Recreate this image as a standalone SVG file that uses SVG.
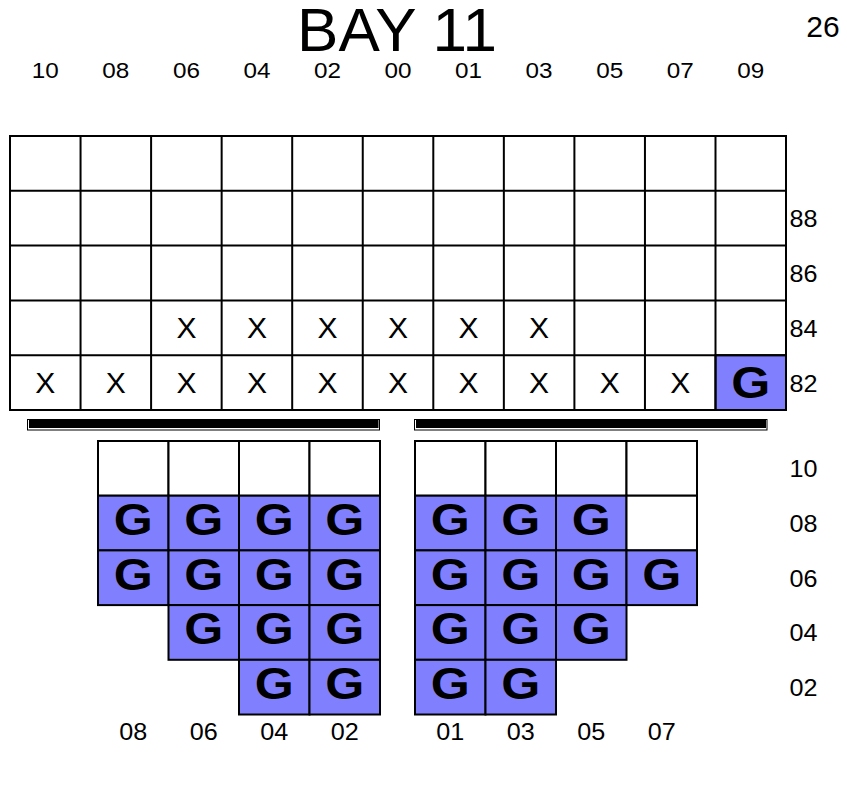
<svg xmlns="http://www.w3.org/2000/svg" width="847" height="803" viewBox="0 0 847 803">
<style>
text{font-family:"Liberation Sans",Arial,sans-serif;fill:#000;text-anchor:middle}
.title{font-size:62px}
.num{font-size:30px}
.cl{font-size:22px}
.rl{font-size:23px}
.x{font-size:30px}
.g{font-size:44px;font-weight:bold}
.w{fill:#fff;stroke:#000;stroke-width:2}
.b{fill:#8080ff;stroke:#000;stroke-width:2}
.ln{stroke:#000;stroke-width:2;fill:none}
</style>
<rect width="847" height="803" fill="#fff"/>
<g id="title">
<text class="title" x="397" y="51">BAY 11</text>
<text class="num" x="823" y="37">26</text>
</g>
<g id="column-labels">
<text class="cl" x="45.3" y="78" textLength="27" lengthAdjust="spacingAndGlyphs">10</text>
<text class="cl" x="115.8" y="78" textLength="27" lengthAdjust="spacingAndGlyphs">08</text>
<text class="cl" x="186.4" y="78" textLength="27" lengthAdjust="spacingAndGlyphs">06</text>
<text class="cl" x="256.9" y="78" textLength="27" lengthAdjust="spacingAndGlyphs">04</text>
<text class="cl" x="327.5" y="78" textLength="27" lengthAdjust="spacingAndGlyphs">02</text>
<text class="cl" x="398" y="78" textLength="27" lengthAdjust="spacingAndGlyphs">00</text>
<text class="cl" x="468.6" y="78" textLength="27" lengthAdjust="spacingAndGlyphs">01</text>
<text class="cl" x="539.1" y="78" textLength="27" lengthAdjust="spacingAndGlyphs">03</text>
<text class="cl" x="609.7" y="78" textLength="27" lengthAdjust="spacingAndGlyphs">05</text>
<text class="cl" x="680.2" y="78" textLength="27" lengthAdjust="spacingAndGlyphs">07</text>
<text class="cl" x="750.8" y="78" textLength="27" lengthAdjust="spacingAndGlyphs">09</text>
</g>
<g id="upper-grid">
<rect class="w" x="10" y="136" width="776" height="274"/>
<rect class="b" x="715.5" y="355.2" width="70.5" height="54.8"/>
<path class="ln" d="M80.55 136V410M151.1 136V410M221.65 136V410M292.2 136V410M362.75 136V410M433.3 136V410M503.85 136V410M574.4 136V410M644.95 136V410M715.5 136V410M10 190.8H786M10 245.6H786M10 300.4H786M10 355.2H786"/>
<text class="x" x="186.4" y="338">X</text>
<text class="x" x="256.9" y="338">X</text>
<text class="x" x="327.5" y="338">X</text>
<text class="x" x="398" y="338">X</text>
<text class="x" x="468.6" y="338">X</text>
<text class="x" x="539.1" y="338">X</text>
<text class="x" x="45.3" y="393">X</text>
<text class="x" x="115.8" y="393">X</text>
<text class="x" x="186.4" y="393">X</text>
<text class="x" x="256.9" y="393">X</text>
<text class="x" x="327.5" y="393">X</text>
<text class="x" x="398" y="393">X</text>
<text class="x" x="468.6" y="393">X</text>
<text class="x" x="539.1" y="393">X</text>
<text class="x" x="609.7" y="393">X</text>
<text class="x" x="680.2" y="393">X</text>
<text class="g" x="750.8" y="398" textLength="39" lengthAdjust="spacingAndGlyphs">G</text>
</g>
<g id="upper-row-labels">
<text class="rl" x="803.5" y="227" textLength="28" lengthAdjust="spacingAndGlyphs">88</text>
<text class="rl" x="803.5" y="282" textLength="28" lengthAdjust="spacingAndGlyphs">86</text>
<text class="rl" x="803.5" y="337" textLength="28" lengthAdjust="spacingAndGlyphs">84</text>
<text class="rl" x="803.5" y="392" textLength="28" lengthAdjust="spacingAndGlyphs">82</text>
</g>
<g id="hatch-bars">
<rect x="27.5" y="419.5" width="352" height="10.5" fill="none" stroke="#000" stroke-width="1"/>
<rect x="29" y="419" width="349.5" height="9" fill="#000"/>
<rect x="414.5" y="419.5" width="352.5" height="10.5" fill="none" stroke="#000" stroke-width="1"/>
<rect x="416" y="419" width="350" height="9" fill="#000"/>
</g>
<g id="lower-left">
<rect class="w" x="98" y="441" width="70.5" height="54.7"/>
<rect class="w" x="168.5" y="441" width="70.5" height="54.7"/>
<rect class="w" x="239" y="441" width="70.5" height="54.7"/>
<rect class="w" x="309.5" y="441" width="70.5" height="54.7"/>
<rect class="b" x="98" y="495.7" width="70.5" height="54.7"/>
<rect class="b" x="168.5" y="495.7" width="70.5" height="54.7"/>
<rect class="b" x="239" y="495.7" width="70.5" height="54.7"/>
<rect class="b" x="309.5" y="495.7" width="70.5" height="54.7"/>
<rect class="b" x="98" y="550.4" width="70.5" height="54.7"/>
<rect class="b" x="168.5" y="550.4" width="70.5" height="54.7"/>
<rect class="b" x="239" y="550.4" width="70.5" height="54.7"/>
<rect class="b" x="309.5" y="550.4" width="70.5" height="54.7"/>
<rect class="b" x="168.5" y="605.1" width="70.5" height="54.7"/>
<rect class="b" x="239" y="605.1" width="70.5" height="54.7"/>
<rect class="b" x="309.5" y="605.1" width="70.5" height="54.7"/>
<rect class="b" x="239" y="659.8" width="70.5" height="54.7"/>
<rect class="b" x="309.5" y="659.8" width="70.5" height="54.7"/>
<text class="g" x="133.25" y="535" textLength="39" lengthAdjust="spacingAndGlyphs">G</text>
<text class="g" x="203.75" y="535" textLength="39" lengthAdjust="spacingAndGlyphs">G</text>
<text class="g" x="274.25" y="535" textLength="39" lengthAdjust="spacingAndGlyphs">G</text>
<text class="g" x="344.75" y="535" textLength="39" lengthAdjust="spacingAndGlyphs">G</text>
<text class="g" x="133.25" y="589.7" textLength="39" lengthAdjust="spacingAndGlyphs">G</text>
<text class="g" x="203.75" y="589.7" textLength="39" lengthAdjust="spacingAndGlyphs">G</text>
<text class="g" x="274.25" y="589.7" textLength="39" lengthAdjust="spacingAndGlyphs">G</text>
<text class="g" x="344.75" y="589.7" textLength="39" lengthAdjust="spacingAndGlyphs">G</text>
<text class="g" x="203.75" y="644.4" textLength="39" lengthAdjust="spacingAndGlyphs">G</text>
<text class="g" x="274.25" y="644.4" textLength="39" lengthAdjust="spacingAndGlyphs">G</text>
<text class="g" x="344.75" y="644.4" textLength="39" lengthAdjust="spacingAndGlyphs">G</text>
<text class="g" x="274.25" y="699.1" textLength="39" lengthAdjust="spacingAndGlyphs">G</text>
<text class="g" x="344.75" y="699.1" textLength="39" lengthAdjust="spacingAndGlyphs">G</text>
</g>
<g id="lower-right">
<rect class="w" x="415" y="441" width="70.5" height="54.7"/>
<rect class="w" x="485.5" y="441" width="70.5" height="54.7"/>
<rect class="w" x="556" y="441" width="70.5" height="54.7"/>
<rect class="w" x="626.5" y="441" width="70.5" height="54.7"/>
<rect class="b" x="415" y="495.7" width="70.5" height="54.7"/>
<rect class="b" x="485.5" y="495.7" width="70.5" height="54.7"/>
<rect class="b" x="556" y="495.7" width="70.5" height="54.7"/>
<rect class="w" x="626.5" y="495.7" width="70.5" height="54.7"/>
<rect class="b" x="415" y="550.4" width="70.5" height="54.7"/>
<rect class="b" x="485.5" y="550.4" width="70.5" height="54.7"/>
<rect class="b" x="556" y="550.4" width="70.5" height="54.7"/>
<rect class="b" x="626.5" y="550.4" width="70.5" height="54.7"/>
<rect class="b" x="415" y="605.1" width="70.5" height="54.7"/>
<rect class="b" x="485.5" y="605.1" width="70.5" height="54.7"/>
<rect class="b" x="556" y="605.1" width="70.5" height="54.7"/>
<rect class="b" x="415" y="659.8" width="70.5" height="54.7"/>
<rect class="b" x="485.5" y="659.8" width="70.5" height="54.7"/>
<text class="g" x="450.25" y="535" textLength="39" lengthAdjust="spacingAndGlyphs">G</text>
<text class="g" x="520.75" y="535" textLength="39" lengthAdjust="spacingAndGlyphs">G</text>
<text class="g" x="591.25" y="535" textLength="39" lengthAdjust="spacingAndGlyphs">G</text>
<text class="g" x="450.25" y="589.7" textLength="39" lengthAdjust="spacingAndGlyphs">G</text>
<text class="g" x="520.75" y="589.7" textLength="39" lengthAdjust="spacingAndGlyphs">G</text>
<text class="g" x="591.25" y="589.7" textLength="39" lengthAdjust="spacingAndGlyphs">G</text>
<text class="g" x="661.75" y="589.7" textLength="39" lengthAdjust="spacingAndGlyphs">G</text>
<text class="g" x="450.25" y="644.4" textLength="39" lengthAdjust="spacingAndGlyphs">G</text>
<text class="g" x="520.75" y="644.4" textLength="39" lengthAdjust="spacingAndGlyphs">G</text>
<text class="g" x="591.25" y="644.4" textLength="39" lengthAdjust="spacingAndGlyphs">G</text>
<text class="g" x="450.25" y="699.1" textLength="39" lengthAdjust="spacingAndGlyphs">G</text>
<text class="g" x="520.75" y="699.1" textLength="39" lengthAdjust="spacingAndGlyphs">G</text>
</g>
<g id="lower-row-labels">
<text class="rl" x="803.5" y="477" textLength="28" lengthAdjust="spacingAndGlyphs">10</text>
<text class="rl" x="803.5" y="532" textLength="28" lengthAdjust="spacingAndGlyphs">08</text>
<text class="rl" x="803.5" y="587" textLength="28" lengthAdjust="spacingAndGlyphs">06</text>
<text class="rl" x="803.5" y="641" textLength="28" lengthAdjust="spacingAndGlyphs">04</text>
<text class="rl" x="803.5" y="696" textLength="28" lengthAdjust="spacingAndGlyphs">02</text>
</g>
<g id="bottom-labels">
<text class="rl" x="133.25" y="740" textLength="28" lengthAdjust="spacingAndGlyphs">08</text>
<text class="rl" x="203.75" y="740" textLength="28" lengthAdjust="spacingAndGlyphs">06</text>
<text class="rl" x="274.25" y="740" textLength="28" lengthAdjust="spacingAndGlyphs">04</text>
<text class="rl" x="344.75" y="740" textLength="28" lengthAdjust="spacingAndGlyphs">02</text>
<text class="rl" x="450.25" y="740" textLength="28" lengthAdjust="spacingAndGlyphs">01</text>
<text class="rl" x="520.75" y="740" textLength="28" lengthAdjust="spacingAndGlyphs">03</text>
<text class="rl" x="591.25" y="740" textLength="28" lengthAdjust="spacingAndGlyphs">05</text>
<text class="rl" x="661.75" y="740" textLength="28" lengthAdjust="spacingAndGlyphs">07</text>
</g>
</svg>
